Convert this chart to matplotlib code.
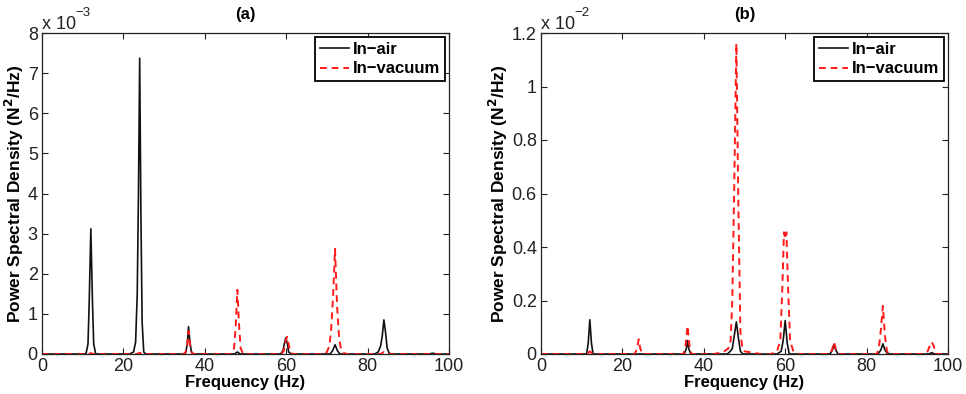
import matplotlib
matplotlib.use("Agg")
import matplotlib.pyplot as plt
from matplotlib.ticker import FuncFormatter

plt.rcParams['font.family'] = ['Liberation Sans', 'DejaVu Sans']

# ---------------- Data (PSD values in N^2/Hz) ----------------
# Panel (a)
a_air_freq = [0, 10.8, 11.3, 11.6, 12.0, 12.4, 12.7, 13.2,
              21.5, 22.5, 23.0, 23.4, 23.7, 24.0, 24.3, 24.6, 25.0, 25.5,
              34.8, 35.3, 35.7, 36.0, 36.3, 36.7, 37.2,
              47.3, 48.0, 48.7,
              58.6, 59.2, 59.6, 59.9, 60.3, 60.6, 61.2,
              70.8, 71.4, 72.0, 72.6, 73.2,
              81.8, 82.6, 83.2, 83.6, 84.0, 84.4, 84.8, 85.3, 86.0,
              95.2, 96.0, 96.8, 100]
a_air_val = [0, 0, 0.25e-3, 1.3e-3, 3.12e-3, 1.3e-3, 0.25e-3, 0,
             0, 0.05e-3, 0.3e-3, 1.5e-3, 4.0e-3, 7.37e-3, 3.5e-3, 0.8e-3, 0.05e-3, 0,
             0, 0.03e-3, 0.25e-3, 0.68e-3, 0.35e-3, 0.05e-3, 0,
             0, 0.05e-3, 0,
             0, 0.08e-3, 0.28e-3, 0.40e-3, 0.25e-3, 0.05e-3, 0,
             0, 0.08e-3, 0.23e-3, 0.08e-3, 0,
             0, 0.05e-3, 0.2e-3, 0.45e-3, 0.85e-3, 0.55e-3, 0.15e-3, 0.02e-3, 0,
             0, 0.02e-3, 0, 0]

a_vac_freq = [0, 11.3, 12.0, 12.7,
              23.3, 24.0, 24.7,
              34.8, 35.3, 35.7, 36.0, 36.4, 36.8, 37.3,
              46.6, 47.2, 47.6, 48.0, 48.4, 48.8, 49.4,
              58.8, 59.4, 59.8, 60.2, 60.6, 61.0, 61.6,
              69.2, 70.0, 70.6, 71.0, 71.5, 72.0, 72.5, 73.0, 73.5, 74.2, 75.0,
              83.2, 84.0, 84.8,
              95.2, 96.0, 96.8, 100]
a_vac_val = [0, 0, 0.02e-3, 0,
             0, 0.03e-3, 0,
             0, 0.05e-3, 0.25e-3, 0.57e-3, 0.2e-3, 0.03e-3, 0,
             0, 0.15e-3, 0.7e-3, 1.6e-3, 0.75e-3, 0.15e-3, 0,
             0, 0.08e-3, 0.3e-3, 0.43e-3, 0.25e-3, 0.05e-3, 0,
             0, 0.05e-3, 0.2e-3, 0.55e-3, 1.4e-3, 2.62e-3, 1.2e-3, 0.4e-3, 0.1e-3, 0.02e-3, 0,
             0, 0.05e-3, 0,
             0, 0.03e-3, 0, 0]

# Panel (b)
b_air_freq = [0, 11.2, 11.6, 12.0, 12.4, 12.8,
              35.2, 35.7, 36.0, 36.3, 36.8,
              45.8, 46.5, 47.0, 47.5, 48.0, 48.5, 49.0, 49.6,
              58.0, 59.0, 59.5, 60.0, 60.5, 61.0,
              71.0, 71.6, 72.0, 72.4, 73.0,
              82.8, 83.5, 84.0, 84.5, 85.2,
              95.3, 96.0, 96.7, 100]
b_air_val = [0, 0, 0.04e-2, 0.128e-2, 0.04e-2, 0,
             0, 0.02e-2, 0.05e-2, 0.02e-2, 0,
             0, 0.01e-2, 0.02e-2, 0.07e-2, 0.12e-2, 0.06e-2, 0.01e-2, 0,
             0, 0.01e-2, 0.05e-2, 0.125e-2, 0.04e-2, 0,
             0, 0.015e-2, 0.035e-2, 0.015e-2, 0,
             0, 0.015e-2, 0.038e-2, 0.015e-2, 0,
             0, 0.005e-2, 0, 0]

b_vac_freq = [0, 11.3, 12.0, 12.7,
              23.0, 23.6, 24.0, 24.4, 25.0,
              35.0, 35.5, 36.0, 36.5, 37.0,
              42.5, 44.0, 45.0, 46.0, 46.6, 47.0, 47.5, 48.0, 48.5, 49.0, 49.5, 50.0, 52.0, 54.0,
              56.5, 58.0, 58.8, 59.3, 59.7, 60.0, 60.3, 60.7, 61.2, 62.0, 63.0,
              71.0, 71.5, 72.0, 72.5, 73.0,
              82.5, 83.0, 83.5, 84.0, 84.5, 85.0, 85.5,
              94.3, 95.0, 95.5, 96.0, 96.5, 97.0, 100]
b_vac_val = [0, 0, 0.01e-2, 0,
             0, 0.02e-2, 0.055e-2, 0.02e-2, 0,
             0, 0.03e-2, 0.105e-2, 0.03e-2, 0,
             0, 0.005e-2, 0.01e-2, 0.02e-2, 0.05e-2, 0.2e-2, 0.65e-2, 1.16e-2, 0.55e-2, 0.08e-2, 0.02e-2, 0.01e-2, 0.005e-2, 0,
             0, 0.01e-2, 0.05e-2, 0.25e-2, 0.455e-2, 0.43e-2, 0.455e-2, 0.25e-2, 0.05e-2, 0.01e-2, 0,
             0, 0.015e-2, 0.045e-2, 0.015e-2, 0,
             0, 0.02e-2, 0.09e-2, 0.18e-2, 0.07e-2, 0.01e-2, 0,
             0, 0.01e-2, 0.03e-2, 0.045e-2, 0.03e-2, 0, 0]

panel_titles = ['(a)', '(b)']
series_labels = ['In\u2212air', 'In\u2212vacuum']
x_label = 'Frequency (Hz)'
y_label = 'Power Spectral Density (N$^\\mathbf{2}$/Hz)'
exponents = [-3, -2]
y_limits = [8, 1.2]
y_ticks = [[0, 1, 2, 3, 4, 5, 6, 7, 8], [0, 0.2, 0.4, 0.6, 0.8, 1.0, 1.2]]
x_ticks = [0, 20, 40, 60, 80, 100]

panels = [(a_air_freq, a_air_val, a_vac_freq, a_vac_val),
          (b_air_freq, b_air_val, b_vac_freq, b_vac_val)]

# ---------------- Figure ----------------
W, H = 966, 394
fig = plt.figure(figsize=(W / 100, H / 100), dpi=100)
lefts = [42, 541]
bottom_px, top_px = 354, 33
width_px = 407

for i, (af, av, vf, vv) in enumerate(panels):
    ax = fig.add_axes([lefts[i] / W, (H - bottom_px) / H, width_px / W, (bottom_px - top_px) / H])
    scale = 10.0 ** exponents[i]
    ax.plot(af, [v / scale for v in av], color='#111111', lw=1.2, label=series_labels[0])
    ax.plot(vf, [v / scale for v in vv], color='#ff1a1a', lw=1.4, ls=(0, (3.5, 2.5)), label=series_labels[1])
    ax.set_xlim(0, 100)
    ax.set_ylim(0, y_limits[i])
    ax.set_xticks(x_ticks)
    ax.set_yticks(y_ticks[i])
    ax.yaxis.set_major_formatter(FuncFormatter(lambda v, p: '%g' % v))
    ax.tick_params(direction='in', length=4, width=0.8, top=True, right=True,
                   labelsize=13, pad=3, colors='#222222', labelcolor='#222222')
    for s in ax.spines.values():
        s.set_color('#222222')
        s.set_linewidth(0.9)
    ax.set_xlabel(x_label, fontsize=12, fontweight='bold', labelpad=0)
    ax.set_ylabel(y_label, fontsize=12.5, fontweight='bold', labelpad=1)
    ax.set_title(panel_titles[i], fontsize=12, fontweight='bold', pad=10)
    ax.text(0.0, 1.0, 'x 10', transform=ax.transAxes,
            fontsize=13, ha='left', va='bottom', color='#222222')
    ax.text(0.083, 1.045, '\u2212%d' % abs(exponents[i]), transform=ax.transAxes,
            fontsize=9.5, ha='left', va='bottom', color='#222222')
    leg = ax.legend(loc='upper right', prop={'weight': 'bold', 'size': 12},
                    frameon=True, fancybox=False, borderaxespad=0.25,
                    handlelength=1.75, handletextpad=0.2, borderpad=0.3, labelspacing=0.25)
    leg.get_frame().set_edgecolor('black')
    leg.get_frame().set_linewidth(1.3)
    leg.get_frame().set_alpha(1)

fig.savefig('out.png', dpi=100)
